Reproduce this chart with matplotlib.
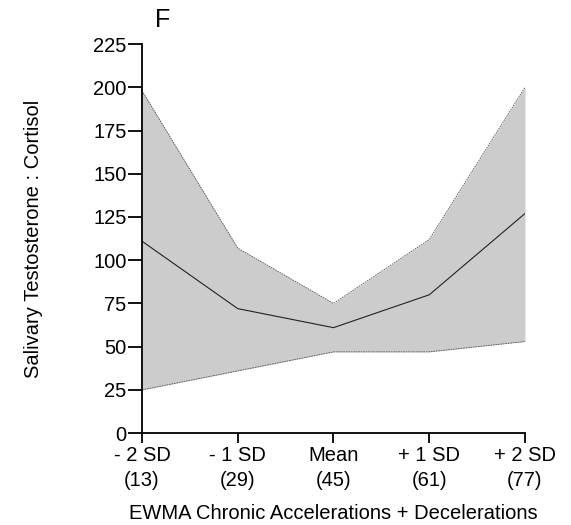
import numpy as np
import matplotlib
matplotlib.use("Agg")
import matplotlib.pyplot as plt

plt.rcParams['font.family'] = ['Liberation Sans', 'DejaVu Sans']

# EWMA chronic accelerations + decelerations groups
x_labels = ['- 2 SD\n(13)', '- 1 SD\n(29)', 'Mean\n(45)', '+ 1 SD\n(61)', '+ 2 SD\n(77)']
ratio_mean = [111, 72, 61, 80, 127]
ratio_upper = [198, 107, 75, 112, 200]
ratio_lower = [25, 36, 47, 47, 53]

x = np.arange(len(x_labels))

fig = plt.figure(figsize=(5.71, 5.25), dpi=100)
ax = fig.add_axes([0.2487, 0.175, 0.6707, 0.741])

ax.fill_between(x, ratio_lower, ratio_upper, color='#cccccc', linewidth=0)
ax.plot(x, ratio_upper, color='#555555', lw=0.6, ls=(0, (2, 1)))
ax.plot(x, ratio_lower, color='#555555', lw=0.6, ls=(0, (2, 1)))
ax.plot(x, ratio_mean, color='#222222', lw=0.8)

ax.set_xlim(0, 4)
ax.set_ylim(0, 225)
ax.set_yticks(np.arange(0, 226, 25))
ax.set_xticks(x)
ax.set_xticklabels(x_labels, fontsize=14.5, linespacing=1.4)
ax.tick_params(axis='y', labelsize=14.5, length=10, width=1.3, pad=1)
ax.tick_params(axis='x', length=7.5, width=1.3, pad=1.5)

for s in ['top', 'right']:
    ax.spines[s].set_visible(False)
for s in ['left', 'bottom']:
    ax.spines[s].set_linewidth(1.3)

ax.set_ylabel('Salivary Testosterone : Cortisol', fontsize=14.5, labelpad=36)
ax.set_xlabel('EWMA Chronic Accelerations + Decelerations', fontsize=14.5, labelpad=10)
fig.text(0.284, 0.962, 'F', fontsize=18, ha='center', va='center')

fig.savefig('out.png', dpi=100)
